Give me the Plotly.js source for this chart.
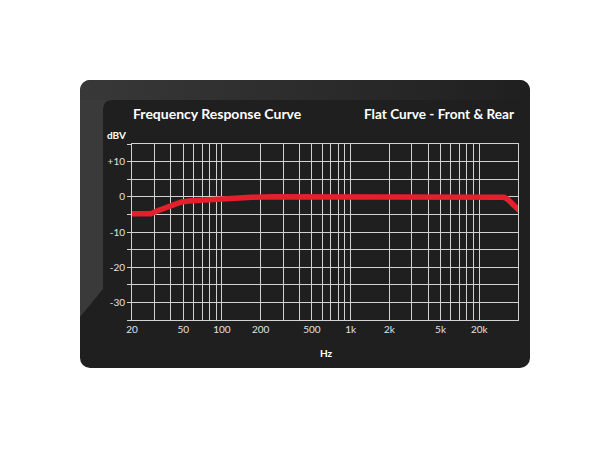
<!DOCTYPE html>
<html>
<head>
<meta charset="utf-8">
<script src="https://cdn.plot.ly/plotly-3.0.1.min.js"></script>
<style>
  html, body { margin:0; padding:0; background:#ffffff; }
  #wrap { position:relative; width:610px; height:450px; }
  #bg { position:absolute; left:0; top:0; }
  #chart { position:absolute; left:0; top:0; width:610px; height:450px; }
</style>
</head>
<body>
<div id="wrap">
<svg id="bg" width="610" height="450">
  <defs>
    <clipPath id="panelClip"><rect x="80" y="80" width="450" height="288" rx="10" ry="10"/></clipPath>
    <linearGradient id="topGrad" x1="0" y1="0" x2="1" y2="0">
      <stop offset="0" stop-color="#383838"/>
      <stop offset="0.5" stop-color="#2c2c2c"/>
      <stop offset="1" stop-color="#1f1f1f"/>
    </linearGradient>
  </defs>
  <rect x="80" y="80" width="450" height="288" rx="10" ry="10" fill="#1f1f1f"/>
  <g clip-path="url(#panelClip)">
    <path d="M80 80 H530 V100 H112 Q103 100 103 109 V120 H80 Z" fill="url(#topGrad)"/>
    <path d="M80 100 H112 Q103 100 103 109 V289 L80 317 Z" fill="#3a3a3a"/>
  </g>
</svg>
<div id="chart"></div>
</div>
<script>
// Frequency response data (Hz, dBV)
const freqHz = [20, 28, 32, 37, 42, 48, 55, 65, 80, 100, 130, 170, 250, 1000, 5000, 10000, 14500, 15500, 16500, 17500, 18500, 19500, 20500];
const levelDb = [-4.8, -4.8, -3.9, -2.9, -2.1, -1.5, -1.2, -1.0, -0.8, -0.55, -0.3, -0.15, 0, 0, 0, 0, 0, -0.15, -0.6, -1.4, -2.3, -3.2, -3.9];

// Axis ticks
const xGridVals = [20,30,40,50,60,70,80,90,100,200,300,400,500,600,700,800,900,1000,2000,3000,4000,5000,6000,7000,8000,9000,10000];
const xLabelMap = {20:'20', 50:'50', 100:'100', 200:'200', 500:'500', 1000:'1k', 2000:'2k', 5000:'5k', 10000:'20k'};
const yGridVals = [-35,-30,-25,-20,-15,-10,-5,0,5,10,15];
const yLabelMap = {'-30':'-30', '-20':'-20', '-10':'-10', '0':'0', '10':'+10'};

const xText = xGridVals.map(v => xLabelMap[v] || '');
const yText = yGridVals.map(v => yLabelMap[String(v)] || '');

const gridCol = '#d2d2d2';
const fontFam = 'Lato, "Open Sans", sans-serif';

const trace = {
  x: freqHz,
  y: levelDb,
  type: 'scatter',
  mode: 'lines',
  line: { color: '#e3202b', width: 5.5, shape: 'linear' },
  hoverinfo: 'skip',
  cliponaxis: true
};

const layout = {
  width: 610,
  height: 450,
  margin: { l: 132, r: 92, t: 144, b: 130 },
  paper_bgcolor: 'rgba(0,0,0,0)',
  plot_bgcolor: '#1f1f1f',
  showlegend: false,
  font: { family: fontFam, color: '#e2e2e2', size: 10 },
  xaxis: {
    type: 'log',
    range: [Math.log10(20), Math.log10(20000)],
    tickmode: 'array',
    tickvals: xGridVals,
    ticktext: xText,
    showgrid: true,
    gridcolor: gridCol,
    gridwidth: 1,
    showline: true,
    mirror: true,
    linecolor: gridCol,
    linewidth: 1,
    ticks: '',
    tickfont: { family: fontFam, size: 10, color: '#e2e2e2' },
    zeroline: false,
    fixedrange: true
  },
  yaxis: {
    range: [-35, 15],
    tickmode: 'array',
    tickvals: yGridVals,
    ticktext: yText,
    showgrid: true,
    gridcolor: gridCol,
    gridwidth: 1,
    showline: true,
    mirror: true,
    linecolor: gridCol,
    linewidth: 1,
    ticks: 'outside',
    ticklen: 4,
    tickcolor: gridCol,
    tickfont: { family: fontFam, size: 10, color: '#e2e2e2' },
    zeroline: false,
    fixedrange: true
  },
  annotations: [
    { text: '<b>Frequency Response Curve</b>', xref: 'paper', yref: 'paper', x: 0, y: 1, xanchor: 'left', yanchor: 'bottom', yshift: 20, xshift: -1, showarrow: false, font: { family: fontFam, size: 14, color: '#ffffff' } },
    { text: '<b>Flat Curve - Front &amp; Rear</b>', xref: 'paper', yref: 'paper', x: 1, y: 1, xanchor: 'right', yanchor: 'bottom', yshift: 20, xshift: -1, showarrow: false, font: { family: fontFam, size: 13.6, color: '#ffffff' } },
    { text: '<b>dBV</b>', xref: 'paper', yref: 'paper', x: 0, y: 1, xanchor: 'right', yanchor: 'bottom', xshift: -4, yshift: 1, showarrow: false, font: { family: fontFam, size: 10, color: '#ffffff' } },
    { text: '<b>Hz</b>', xref: 'paper', yref: 'paper', x: 0.5, y: 0, xanchor: 'center', yanchor: 'top', xshift: 1, yshift: -25, showarrow: false, font: { family: fontFam, size: 10, color: '#ffffff' } }
  ]
};

Plotly.newPlot('chart', [trace], layout, { displayModeBar: false, staticPlot: true });
</script>
</body>
</html>
